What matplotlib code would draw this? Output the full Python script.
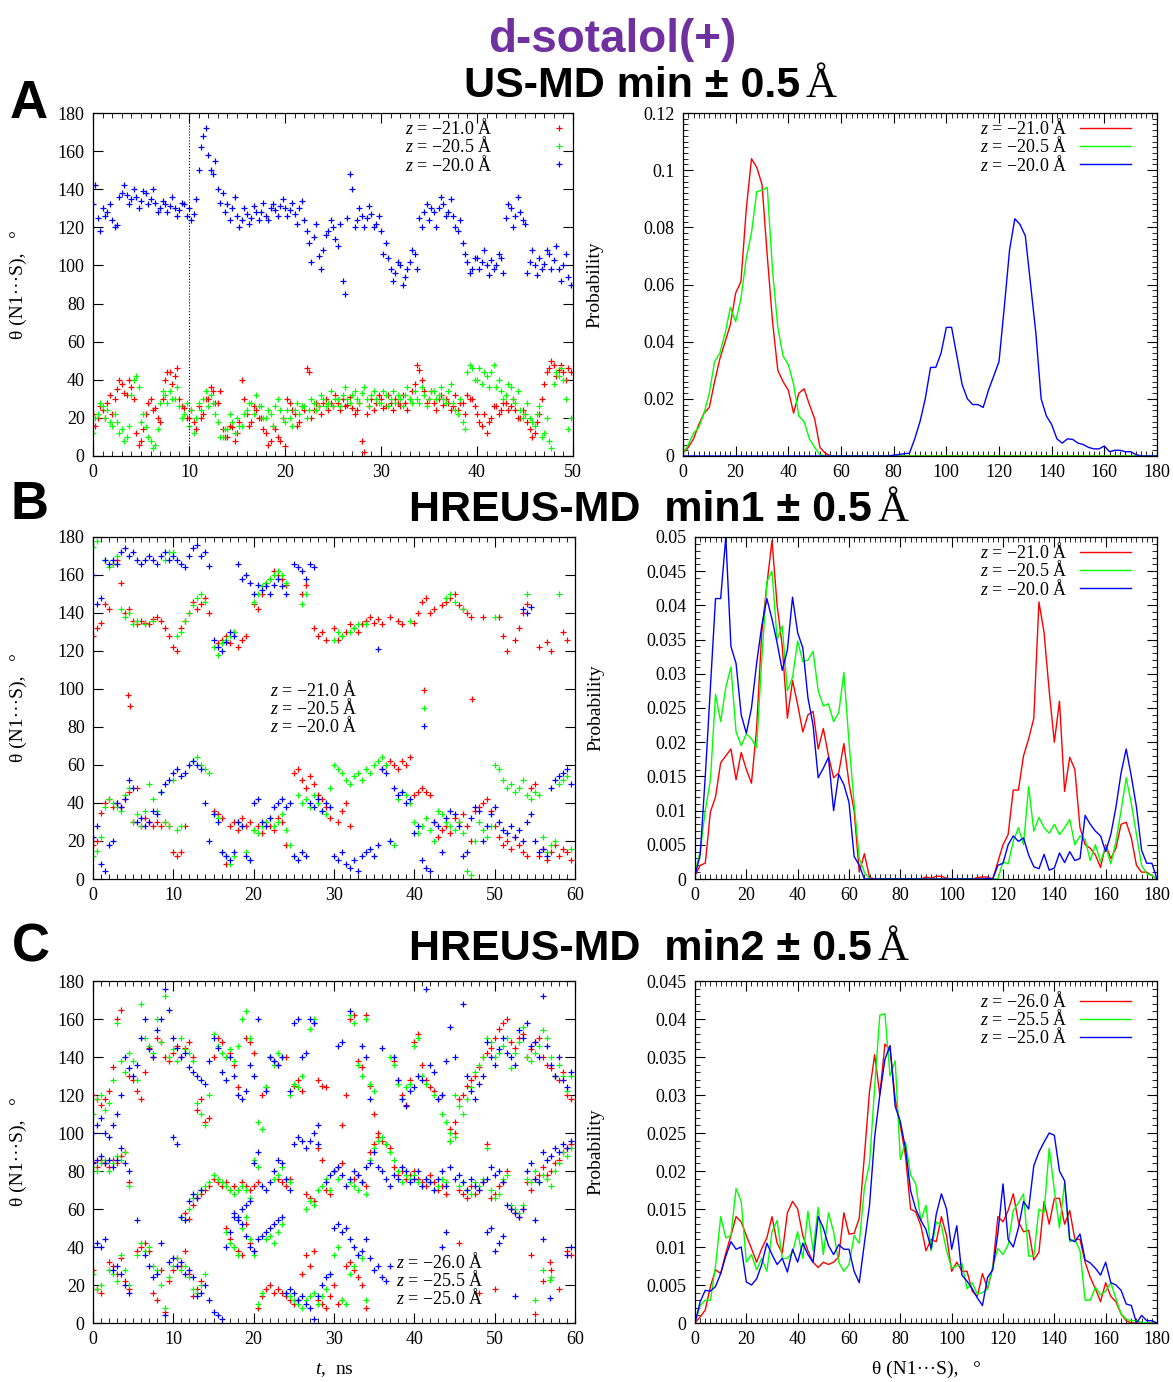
import numpy as np
import matplotlib
matplotlib.use("Agg")
import matplotlib.pyplot as plt
from matplotlib.ticker import MultipleLocator, AutoMinorLocator, NullLocator, FormatStrFormatter

plt.rcParams['font.family'] = ['Liberation Serif', 'DejaVu Serif']
plt.rcParams['mathtext.fontset'] = 'custom'
plt.rcParams['mathtext.rm'] = 'Liberation Serif'
plt.rcParams['mathtext.it'] = 'Liberation Serif:italic'
plt.rcParams['font.size'] = 13

nan = np.nan
RED, GREEN, BLUE = '#ff0000', '#00ff00', '#0000ff'

# ---- time series, sampled every 0.5 ns (theta in degrees) ----
# panel A: main samples at 0, 0.5, 1 ... and in-between samples at 0.25, 0.75 ...
a_red = [22, 20, 24, 28, 22, 35, 38, 32, 36, 12, 8, 22, 30, 25, 18, 40, 44, 42, 30, 25,
         20, 18, 26, 22, 30, 34, 28, 14, 10, 15, 12, 40, 22, 18, 24, 20, 12, 8, 14, 8,
         5, 28, 22, 18, 24, 44, 24, 26, 28, 24, 26, 28, 30, 27, 25, 24, 8, 22, 30, 28,
         30, 26, 28, 30, 26, 28, 30, 38, 45, 34, 30, 28, 30, 27, 28, 26, 24, 28, 32, 30,
         22, 16, 12, 20, 26, 24, 28, 26, 24, 20, 22, 14, 12, 22, 38, 46, 48, 45, 44, 46]
a_red_b = [16, 26, 20, 32, 30, 40, 33, 40, 30, 6, 14, 28, 24, 20, 30, 44, 38, 46, 26, 20,
           24, 14, 20, 30, 36, 28, 34, 10, 16, 8, 18, 30, 16, 26, 20, 14, 6, 16, 10, 20,
           30, 24, 16, 26, 46, 20, 28, 22, 30, 28, 32, 24, 26, 31, 22, 28, 2, 26, 24, 32,
           25, 32, 24, 28, 32, 24, 34, 48, 40, 28, 34, 24, 32, 30, 24, 32, 28, 22, 30, 26,
           18, 22, 18, 26, 22, 28, 24, 30, 20, 24, 18, 10, 18, 30, 44, 50, 42, 48, 40, 44]
a_green = [12, 22, 26, 24, 16, 18, 14, 10, 32, 42, 18, 15, 8, 6, 28, 32, 34, 30, 26, 22,
           16, 12, 28, 30, 26, 28, 18, 10, 14, 18, 20, 16, 24, 28, 32, 26, 20, 22, 26, 24,
           18, 20, 24, 22, 26, 24, 28, 26, 30, 28, 26, 30, 32, 30, 32, 30, 33, 30, 32, 30,
           28, 32, 30, 28, 30, 32, 30, 34, 28, 32, 30, 34, 32, 30, 34, 28, 22, 18, 44, 46,
           40, 38, 42, 44, 36, 34, 32, 36, 28, 24, 22, 20, 16, 26, 12, 8, 38, 42, 40, 14]
a_green_b = [20, 28, 20, 18, 22, 12, 8, 16, 40, 36, 22, 10, 4, 14, 34, 28, 30, 36, 20, 28,
             24, 20, 24, 34, 32, 22, 10, 14, 22, 12, 16, 22, 28, 22, 26, 20, 24, 16, 30, 20,
             24, 16, 28, 26, 20, 30, 24, 32, 26, 34, 30, 26, 36, 28, 34, 28, 36, 26, 34, 28,
             34, 26, 34, 32, 26, 36, 28, 30, 36, 26, 34, 30, 36, 28, 38, 24, 30, 14, 48, 40,
             46, 44, 36, 48, 40, 30, 38, 30, 34, 20, 28, 18, 22, 10, 20, 4, 44, 46, 30, 20]
a_blue = [132, 125, 130, 128, 124, 121, 138, 137, 135, 136, 134, 138, 135, 133, 130, 132, 131, 130, 129, 132,
          130, 127, 150, 168, 158, 148, 140, 138, 132, 130, 126, 124, 127, 125, 128, 128, 126, 130, 129, 131,
          130, 129, 127, 130, 124, 112, 115, 105, 108, 118, 120, 110, 92, 125, 140, 124, 126, 125, 127, 122,
          118, 112, 98, 96, 100, 94, 102, 106, 125, 128, 124, 128, 130, 132, 128, 126, 118, 112, 102, 98,
          104, 102, 100, 103, 100, 104, 125, 130, 126, 128, 122, 102, 100, 104, 101, 106, 103, 98, 100, 94]
a_blue_b = [142, 118, 126, 132, 120, 136, 142, 132, 140, 130, 139, 132, 140, 128, 134, 128, 136, 126, 133, 126,
            124, 135, 162, 172, 150, 155, 133, 128, 124, 136, 120, 130, 122, 131, 124, 133, 124, 132, 126, 135,
            126, 133, 122, 134, 118, 102, 122, 98, 116, 124, 114, 122, 85, 148, 120, 130, 120, 131, 120, 126,
            106, 104, 92, 102, 90, 98, 108, 98, 120, 132, 130, 120, 136, 126, 135, 120, 124, 106, 96, 104,
            98, 108, 95, 98, 106, 96, 132, 120, 136, 124, 96, 108, 95, 98, 108, 98, 110, 92, 106, 90]

b_red_hi = [128, 132, 135, 145, 142, 166, 168, 156, 140, 142, 136, 134, 136, 135, 134, 137, 138, 136, 132, 128,
            122, 120, 132, 136, 140, 146, 142, 145, 148, 140, nan, 124, 126, 128, 124, 130, 122, 126, 128, nan,
            145, 142, 150, 156, 158, 162, 160, 158, 155, nan, nan, nan, 150, 155, nan, 132, 128, 130, 126, nan,
            132, 126, 128, 130, 134, 132, 130, 134, 136, 138, 135, 137, 134, nan, 138, nan, 136, 134, nan, nan,
            135, 140, 146, 148, 140, 142, nan, 144, 146, 148, 150, 144, 142, 140, 138, nan, nan, 138, nan, nan,
            nan, 138, 128, 120, nan, 126, 132, 140, 145, nan, nan, 122, nan, 125, 120, nan, nan, 130, 126, nan]
b_red_lo = [18, 20, 35, 40, 42, 38, 40, 38, 42, 46, 30, 48, 28, 32, 30, 28, 30, 28, 30, 28,
            14, 12, 14, 28, nan, nan, nan, nan, nan, nan, 36, 34, 32, 8, 28, 30, 26, 32, 28, 30,
            26, 28, 24, 30, 28, 26, 32, 30, 18, nan, 56, 58, 52, 48, 54, 50, 44, 42, 38, 32,
            nan, 30, 36, 40, 28, nan, nan, nan, nan, nan, nan, nan, 58, 60, 62, 60, 58, 62, 60, 64,
            44, 46, 48, 46, 44, 30, 22, 26, 28, 24, 32, 30, 34, 28, 20, 36, 38, 40, 42, 36,
            28, 22, 18, 20, 16, 22, 18, 14, 12, 48, 50, 12, 16, 10, 14, 18, 12, 16, 14, 10]
b_red_extra_t = [4.3, 4.6, 47.2]
b_red_extra = [97, 91, 95]
b_green_hi = [175, 178, nan, 168, 164, 166, 170, 142, 138, 140, 134, 136, nan, 134, nan, 136, nan, nan, 168, 172,
              172, 128, 130, 136, 140, 144, 148, 150, 146, nan, 122, 118, 124, 126, 128, 130, nan, nan, nan, nan,
              146, 150, 154, 156, 158, 160, 162, 160, 156, nan, nan, nan, 145, 150, nan, nan, nan, nan, nan, nan,
              126, 130, 128, nan, 130, 132, 134, nan, 134, nan, nan, nan, nan, nan, nan, nan, nan, nan, nan, 136,
              nan, nan, nan, nan, nan, nan, nan, nan, 148, 150, 146, nan, 142, nan, nan, nan, nan, nan, nan, nan,
              138, nan, nan, nan, nan, nan, nan, nan, 150, nan, nan, nan, nan, nan, nan, nan, 150, nan, nan, nan]
b_green_lo = [12, 15, 22, 38, 42, 40, 38, 36, 44, 48, 30, 34, 28, 36, 50, 42, 36, 46, 30, 28,
              52, 26, 28, nan, nan, 62, 64, 60, 58, 56, 34, 32, 14, 12, 8, 12, 30, 28, 14, 10,
              26, 24, 28, 30, 32, 28, 30, 34, 26, 18, 12, 44, 40, 42, 38, 44, 40, 36, 34, 48,
              60, 58, 56, 52, 50, 54, 56, 52, 58, 56, 60, 62, 64, 60, 20, 18, 42, 46, 44, 40,
              30, 24, 28, 32, 26, 20, 36, 34, 30, 28, 26, 30, 24, 4, 2, 20, 30, 26, 22, 28,
              60, 58, 52, 48, 50, 46, 48, 52, 44, 42, 46, 44, 22, 14, 18, 20, 50, 52, 54, 16]
b_blue_hi = [160, 145, 148, 168, 166, 168, 166, 172, 174, 170, 172, 168, 166, 168, 170, 168, 166, 170, 172, 168,
             170, 168, 166, 164, 170, 174, 176, 170, 172, 165, 126, 122, 120, 125, 130, 128, 166, 158, 160, 156,
             150, 155, 152, 154, 150, 155, 158, 154, 150, nan, 166, 164, 162, 158, 166, 164, nan, nan, nan, nan,
             nan, nan, nan, nan, nan, nan, nan, nan, nan, nan, nan, 121, nan, nan, nan, nan, nan, nan, nan, nan,
             nan, nan, nan, nan, nan, nan, nan, nan, nan, nan, nan, nan, nan, nan, nan, nan, nan, nan, nan, nan,
             nan, nan, nan, nan, nan, nan, nan, 142, 140, 143, nan, nan, nan, nan, nan, nan, nan, nan, nan, nan]
b_blue_lo = [22, 28, 8, 4, 18, 20, 40, 38, 42, 52, 48, 30, 32, 28, 30, 36, 34, 46, 50, 52,
             56, 58, 54, 56, 60, 62, 60, 58, 40, 20, 34, 30, 14, 12, 10, 14, 30, 28, 12, 10,
             40, 42, 30, 28, 32, 38, 40, 42, 38, 40, 12, 10, 14, 12, 40, 38, 42, 36, 40, 38,
             12, 10, 14, 8, 6, 10, 4, 12, 14, 16, 12, 18, 58, 56, 20, 48, 44, 46, 40, 42,
             24, 28, 10, 6, 4, 30, 28, 14, 32, 36, 34, 28, 12, 14, 32, 38, 36, 20, 28, 34,
             38, 30, 26, 24, 28, 22, 26, 20, 30, 34, 20, 14, 16, 12, 48, 52, 54, 56, 58, 50]

c_red_hi = [120, 118, 115, 118, 122, 135, 160, 165, nan, 130, 128, 122, 118, 132, 145, 140, 150, 148, 140, 138,
            142, 146, 140, 145, 148, 140, 112, 118, 106, 108, 140, 150, 148, 140, 142, 136, 124, nan, 150, 148,
            142, nan, 120, 124, 140, 138, 136, nan, 140, nan, 125, 128, 122, nan, nan, 158, 128, 125, 124, nan,
            nan, nan, 104, 120, 160, 162, 138, 135, 162, 125, 110, 100, nan, nan, nan, 138, 128, 120, 115, 128,
            148, 152, 136, 128, 124, 122, 118, 120, nan, 102, 106, 118, 120, 125, 128, 130, 135, 140, 142, 145,
            150, 155, 158, 160, 148, 145, 150, 152, 140, 144, 148, 150, 140, 136, 134, 130, 128, 132, 120, 118]
c_red_mid = [85, 82, 86, 84, 82, 86, 84, 88, 90, 74, nan, nan, nan, nan, nan, nan, nan, nan, nan, nan,
             nan, nan, nan, 58, 55, 62, 66, 68, 70, 72, 76, 74, 72, 74, 70, 72, 70, 74, 72, 70,
             72, 74, nan, nan, nan, nan, 76, 74, 72, 76, nan, nan, nan, 68, 66, 64, 92, 86, 70, 68,
             80, 82, 84, nan, nan, 76, 78, 74, 72, 90, 94, 98, 96, 94, 92, 82, 78, 80, 76, 78,
             80, 76, 74, 72, 78, 74, 70, 72, 68, 96, 100, 70, 68, 66, 72, 68, 70, 74, 94, 66,
             68, 72, 74, 80, 60, 58, 56, 60, 74, 70, 76, 78, 82, 78, 80, 84, 86, 90, 92, 94]
c_red_lo = [28, 18, 16, nan, 32, 30, 26, 34, 22, 18, nan, 38, 40, 42, 38, 16, 12, 28, 6, 22,
            28, 34, 30, 38, 26, 14, 18, 22, nan, nan, nan, nan, nan, 50, 44, 40, 38, 36, 52, 42,
            38, 8, 14, 18, 20, 16, 18, 16, 14, 12, 10, 12, 26, 36, 30, 38, 12, 10, 8, 14,
            20, 10, 12, 30, 32, 28, 24, 20, 8, nan, nan, nan, nan, nan, nan, nan, nan, nan, nan, nan,
            nan, nan, nan, nan, nan, nan, nan, nan, nan, nan, nan, 42, nan, nan, nan, nan, 16, nan, nan, nan,
            18, nan, nan, nan, nan, nan, nan, nan, nan, 36, 5, nan, 22, nan, 28, nan, 18, nan, 38, 36]
c_green_hi = [110, 118, 120, 112, 116, 128, 158, 138, 132, 142, 138, 128, 168, 150, 146, 142, 160, 148, 172, 140,
              144, 138, 150, 144, 142, 138, 116, 110, 104, 120, 152, 146, 142, 140, 144, 138, 146, 160, 164, 150,
              130, 106, 102, 124, 140, 136, 142, 140, nan, 120, 126, 124, 130, nan, 155, 160, nan, nan, nan, nan,
              nan, nan, nan, nan, 162, 158, 136, 130, 160, 126, 122, nan, nan, nan, 140, 136, 126, 118, 124, 126,
              146, 150, 130, 126, nan, 120, nan, 110, 106, 100, 120, 114, 110, 118, 124, 132, 136, 140, 150, 148,
              140, 142, 146, 150, 134, 142, 148, 156, 140, 138, 142, 146, 154, 150, 140, 130, 136, 130, 122, 130]
c_green_mid = [82, 80, 84, 86, 80, 84, 88, 86, 90, 72, nan, nan, nan, nan, nan, nan, nan, nan, nan, nan,
               nan, nan, 56, 54, 60, 66, 68, 70, 72, 74, 78, 76, 74, 72, 70, 68, 70, 72, 70, 66,
               86, 82, nan, nan, nan, 76, 78, 82, 76, 74, nan, nan, nan, 60, 64, 62, 70, 72, 76, 70,
               80, 76, nan, nan, 74, 72, 70, 74, 68, 86, 92, 96, 98, 94, 90, 86, 80, 74, 78, 76,
               78, 74, 72, 76, 74, 70, 72, 76, 74, 96, 98, 72, 74, 70, 68, 74, 72, 76, 92, 70,
               66, 68, 76, 78, 62, 60, 58, 62, 76, 74, 80, 74, 78, 76, 72, 80, 84, 90, 88, 92]
c_green_lo = [26, 18, 20, nan, 28, 26, 22, 36, 28, 20, nan, 36, 42, 38, 40, 30, 28, 20, 8, 24,
              30, 34, 28, 30, 24, 18, 16, 20, 26, nan, nan, nan, nan, 48, 42, 40, 36, 50, 56, 44,
              36, 10, 16, 44, 46, 42, 48, 52, 16, 14, 12, 10, 8, 12, 14, 16, 10, 14, 18, 26,
              36, 40, 12, 10, 26, 30, 36, 34, 12, nan, nan, nan, nan, nan, nan, nan, nan, nan, nan, nan,
              nan, nan, nan, nan, nan, nan, nan, nan, nan, nan, nan, nan, nan, nan, nan, nan, nan, nan, nan, nan,
              nan, nan, nan, nan, nan, nan, nan, nan, nan, nan, 12, nan, 28, nan, 24, nan, nan, nan, nan, nan]
c_blue_hi = [100, 104, 108, 100, 98, 104, 110, 120, 140, 134, 130, 136, 150, 160, 144, 140, 154, 160, 176, 165,
             150, 145, 140, 142, 135, 132, 130, 128, 126, 138, 150, 145, 132, 128, 140, 130, 120, 118, 122, 136,
             130, 160, nan, 122, 140, 138, 136, 140, nan, 122, 158, 160, 140, 142, 160, 158, 104, nan, nan, nan,
             nan, 146, 148, nan, 164, nan, nan, 146, 140, 118, nan, nan, 145, nan, nan, 140, 128, 118, 114, 122,
             124, 130, 128, 176, 136, 132, 118, 120, 138, 156, 140, nan, 168, 130, 122, 118, 126, 130, 148, 140,
             136, 144, 150, 142, 140, 136, 154, 150, 158, 146, 148, 140, 172, 146, 136, 130, 140, 128, 124, 132]
c_blue_mid = [84, 86, 88, 84, 86, 82, 86, 92, 84, 80, nan, nan, nan, nan, nan, nan, nan, nan, nan, nan,
              98, 94, 56, 54, 64, 68, 66, 70, nan, nan, nan, nan, nan, nan, nan, 58, 56, 60, 62, 64,
              84, 90, 72, 70, 74, 80, 86, 84, 76, 70, 94, 98, 96, 92, 96, 100, 94, nan, 74, 78,
              80, 82, 78, 72, 76, 80, 78, 74, 82, 84, 90, 82, 80, 76, 72, 78, 76, 82, 80, 74,
              76, 80, 72, 76, 74, 70, 76, 80, 72, 82, 76, 78, 74, 70, 76, 72, 70, 74, 76, 82,
              78, 80, 74, 62, 60, 58, 56, 60, 80, 84, 76, 74, 90, 86, 88, 92, 90, 94, 92, 96]
c_blue_lo = [40, 42, 40, 44, nan, 28, 30, 26, 20, 16, nan, 54, nan, 36, 30, 24, 26, 42, 4, 32,
             34, 30, 32, 26, 28, 24, 14, 16, 20, 12, 6, 4, 2, 40, 48, 56, 54, 52, 46, 40,
             38, 44, 46, 48, 50, 52, 54, 56, 16, 18, 16, 12, 14, 10, 8, 2, 14, 20, 24, 26,
             50, 52, 48, 50, 44, 40, 36, 38, 44, 34, 28, 30, 24, 22, 30, nan, nan, nan, nan, nan,
             nan, nan, nan, nan, nan, nan, nan, 40, 48, nan, nan, nan, nan, nan, nan, nan, nan, nan, 48, 50,
             38, 42, 46, nan, nan, 14, nan, nan, nan, nan, 54, nan, 44, nan, nan, nan, nan, nan, 36, 40]

# ---- probability histograms, 2 degree bins from 0 to 180 ----
hist_theta = np.arange(0, 181, 2)
a_red_p = [0.001, 0.003, 0.006, 0.011, 0.015, 0.017, 0.026, 0.034, 0.040, 0.046,
           0.057, 0.061, 0.086, 0.104, 0.101, 0.095, 0.070, 0.047, 0.030, 0.026,
           0.023, 0.015, 0.022, 0.0235, 0.018, 0.013, 0.003, 0.001, 0, 0,
           0, 0, 0, 0, 0, 0, 0, 0, 0, 0,
           0, 0, 0, 0, 0, 0, 0, 0, 0, 0,
           0, 0, 0, 0, 0, 0, 0, 0, 0, 0,
           0, 0, 0, 0, 0, 0, 0, 0, 0, 0,
           0, 0, 0, 0, 0, 0, 0, 0, 0, 0,
           0, 0, 0, 0, 0, 0, 0, 0, 0, 0, 0]
a_green_p = [0.001, 0.004, 0.008, 0.010, 0.015, 0.022, 0.033, 0.036, 0.043, 0.052,
             0.047, 0.055, 0.069, 0.078, 0.0925, 0.093, 0.094, 0.065, 0.045, 0.035,
             0.032, 0.025, 0.014, 0.012, 0.006, 0.003, 0.0005, 0, 0, 0,
             0, 0, 0, 0, 0, 0, 0, 0, 0, 0,
             0, 0, 0, 0, 0, 0, 0, 0, 0, 0,
             0, 0, 0, 0, 0, 0, 0, 0, 0, 0,
             0, 0, 0, 0, 0, 0, 0, 0, 0, 0,
             0, 0, 0, 0, 0, 0, 0, 0, 0, 0,
             0, 0, 0, 0, 0, 0, 0, 0, 0, 0, 0]
a_blue_p = [0, 0, 0, 0, 0, 0, 0, 0, 0, 0,
            0, 0, 0, 0, 0, 0, 0, 0, 0, 0,
            0, 0, 0, 0, 0, 0, 0, 0, 0, 0,
            0, 0, 0, 0, 0, 0, 0, 0, 0, 0,
            0.0003, 0.0005, 0.0008, 0.001, 0.006, 0.012, 0.020, 0.031, 0.031, 0.036,
            0.045, 0.045, 0.035, 0.025, 0.020, 0.018, 0.018, 0.017, 0.023, 0.028,
            0.033, 0.052, 0.072, 0.083, 0.081, 0.077, 0.060, 0.043, 0.020, 0.014,
            0.011, 0.006, 0.0045, 0.006, 0.0058, 0.0045, 0.004, 0.003, 0.0025, 0.0025,
            0.0035, 0.0015, 0.002, 0.002, 0.0015, 0.0015, 0.0005, 0, 0, 0, 0]

b_red_p = [0.0005, 0.002, 0.0023, 0.0098, 0.012, 0.017, 0.018, 0.019, 0.0145, 0.0185,
           0.016, 0.014, 0.022, 0.036, 0.043, 0.0495, 0.040, 0.034, 0.0235, 0.029,
           0.0255, 0.0215, 0.024, 0.0245, 0.019, 0.022, 0.018, 0.0148, 0.0155, 0.0198,
           0.014, 0.010, 0.001, 0.0037, 0.0002, 0, 0, 0, 0, 0,
           0, 0, 0, 0, 0, 0.0003, 0.0001, 0.0004, 0.0004, 0.0001,
           0, 0, 0, 0, 0, 0.0002, 0.0003, 0.0003, 0, 0.0025,
           0.005, 0.0065, 0.013, 0.013, 0.018, 0.0205, 0.0235, 0.0405, 0.036, 0.0275,
           0.020, 0.026, 0.0128, 0.0178, 0.016, 0.0075, 0.005, 0.0045, 0.0035, 0.0017,
           0.005, 0.003, 0.0045, 0.008, 0.0083, 0.006, 0.002, 0.001, 0.001, 0.0005, 0]
b_green_p = [0.001, 0.004, 0.010, 0.0145, 0.027, 0.023, 0.028, 0.031, 0.0215, 0.0195,
             0.0212, 0.0205, 0.0192, 0.032, 0.0435, 0.045, 0.035, 0.037, 0.0275, 0.0295,
             0.0348, 0.0318, 0.032, 0.0333, 0.0275, 0.0253, 0.0256, 0.023, 0.0243, 0.0302,
             0.020, 0.011, 0.003, 0.001, 0, 0, 0, 0, 0, 0,
             0, 0, 0, 0, 0, 0, 0, 0, 0, 0,
             0, 0, 0, 0, 0, 0, 0, 0, 0, 0,
             0.0025, 0.0022, 0.0055, 0.0075, 0.005, 0.0135, 0.007, 0.009, 0.0075, 0.0067,
             0.008, 0.0065, 0.0075, 0.0087, 0.005, 0.0063, 0.0058, 0.0027, 0.005, 0.0025,
             0.0048, 0.0022, 0.0055, 0.010, 0.0148, 0.011, 0.0065, 0.002, 0.0008, 0.0005, 0]
b_blue_p = [0.0005, 0.0035, 0.015, 0.028, 0.041, 0.041, 0.050, 0.034, 0.0315, 0.024,
            0.0213, 0.025, 0.0315, 0.037, 0.041, 0.038, 0.0345, 0.0305, 0.0335, 0.0412,
            0.036, 0.0338, 0.0265, 0.0225, 0.0148, 0.0162, 0.0178, 0.010, 0.0153, 0.0138,
            0.0112, 0.0033, 0.002, 0, 0, 0, 0, 0, 0, 0,
            0, 0, 0, 0, 0, 0, 0, 0, 0, 0,
            0, 0, 0, 0, 0, 0, 0, 0.0001, 0, 0.002,
            0.0023, 0.005, 0.0063, 0.0055, 0.006, 0.0035, 0.0018, 0.0015, 0.0036, 0.0013,
            0.0016, 0.0038, 0.0024, 0.004, 0.0027, 0.003, 0.0093, 0.008, 0.007, 0.0063,
            0.004, 0.0065, 0.0105, 0.0155, 0.019, 0.015, 0.0105, 0.0042, 0.0023, 0.0023, 0]

c_red_p = [0.0, 0.0008, 0.0017, 0.0048, 0.007, 0.0065, 0.0092, 0.0115, 0.014, 0.0133,
           0.0115, 0.0098, 0.008, 0.0098, 0.0112, 0.014, 0.0105, 0.0092, 0.0145, 0.016,
           0.015, 0.0115, 0.0095, 0.008, 0.0073, 0.008, 0.0077, 0.008, 0.0087, 0.0145,
           0.0117, 0.0118, 0.0138, 0.022, 0.0305, 0.0353, 0.030, 0.0367, 0.036, 0.0295,
           0.026, 0.022, 0.015, 0.0146, 0.0128, 0.0095, 0.011, 0.0107, 0.014, 0.0115,
           0.0068, 0.008, 0.0068, 0.0068, 0.0042, 0.0035, 0.0065, 0.0045, 0.0073, 0.014,
           0.0133, 0.0148, 0.017, 0.0133, 0.012, 0.0122, 0.0083, 0.0093, 0.016, 0.013,
           0.0164, 0.0164, 0.013, 0.0148, 0.011, 0.011, 0.008, 0.006, 0.0045, 0.0028,
           0.0053, 0.0035, 0.0028, 0.0012, 0.0003, 0, 0, 0, 0, 0, 0]
c_green_p = [0.0, 0.0023, 0.003, 0.003, 0.0075, 0.014, 0.0112, 0.0115, 0.0177, 0.016,
             0.008, 0.009, 0.007, 0.0085, 0.0068, 0.012, 0.0135, 0.0085, 0.0085, 0.0093,
             0.012, 0.0085, 0.0147, 0.0095, 0.0152, 0.009, 0.0145, 0.012, 0.008, 0.0068,
             0.0077, 0.0115, 0.0105, 0.0178, 0.021, 0.031, 0.0405, 0.0407, 0.0325, 0.0345,
             0.0215, 0.0238, 0.0195, 0.0183, 0.0135, 0.0155, 0.0095, 0.0133, 0.0128, 0.0095,
             0.0072, 0.0075, 0.0078, 0.0045, 0.0053, 0.0038, 0.004, 0.0045, 0.0075, 0.0098,
             0.009, 0.0103, 0.0148, 0.0158, 0.017, 0.0088, 0.0088, 0.015, 0.0145, 0.023,
             0.0175, 0.0125, 0.0185, 0.0107, 0.011, 0.0095, 0.003, 0.003, 0.0047, 0.0037,
             0.0042, 0.0053, 0.0032, 0.0012, 0.0005, 0.0003, 0.0003, 0.0001, 0, 0, 0]
c_blue_p = [0.0, 0.0028, 0.0043, 0.0042, 0.0048, 0.0065, 0.0088, 0.0107, 0.0097, 0.010,
            0.0054, 0.005, 0.0058, 0.0077, 0.0105, 0.009, 0.0077, 0.0085, 0.0067, 0.0097,
            0.008, 0.0105, 0.009, 0.008, 0.014, 0.0125, 0.0102, 0.009, 0.0103, 0.0097,
            0.0097, 0.0068, 0.0053, 0.0105, 0.0155, 0.0245, 0.030, 0.0347, 0.0365, 0.0285,
            0.0265, 0.023, 0.0174, 0.015, 0.0135, 0.0123, 0.0098, 0.0143, 0.017, 0.015,
            0.0097, 0.0128, 0.0063, 0.0055, 0.0045, 0.0033, 0.0023, 0.006, 0.007, 0.0118,
            0.0183, 0.011, 0.010, 0.0125, 0.016, 0.015, 0.0207, 0.0225, 0.0238, 0.025,
            0.0247, 0.020, 0.0187, 0.011, 0.0107, 0.0117, 0.0083, 0.0079, 0.0072, 0.0063,
            0.008, 0.0053, 0.005, 0.0043, 0.0025, 0.0023, 0, 0.001, 0.0003, 0.0003, 0]

labels_a = ['$z$ = \u221221.0 \u00c5', '$z$ = \u221220.5 \u00c5', '$z$ = \u221220.0 \u00c5']
labels_c = ['$z$ = \u221226.0 \u00c5', '$z$ = \u221225.5 \u00c5', '$z$ = \u221225.0 \u00c5']
colors = [RED, GREEN, BLUE]
theta_label = '\u03b8 (N1\u00b7\u00b7\u00b7S),   \u00b0'

W, H = 1173, 1382
fig = plt.figure(figsize=(W / 100, H / 100), dpi=100)


def add_axes(l, r, t, b):
    return fig.add_axes([l / W, 1 - b / H, (r - l) / W, (b - t) / H])


def style(ax, xmax, xmajor, ymax, ymajor, yminor):
    ax.set_xlim(0, xmax)
    ax.set_ylim(0, ymax)
    ax.xaxis.set_major_locator(MultipleLocator(xmajor))
    ax.xaxis.set_minor_locator(AutoMinorLocator(10))
    ax.yaxis.set_major_locator(MultipleLocator(ymajor))
    if yminor:
        ax.yaxis.set_minor_locator(AutoMinorLocator(yminor))
    else:
        ax.yaxis.set_minor_locator(NullLocator())
    ax.yaxis.set_major_formatter(FormatStrFormatter('%g'))
    ax.xaxis.set_major_formatter(FormatStrFormatter('%g'))
    ax.tick_params(which='both', direction='in', top=True, right=True, labelsize=13, pad=6)
    ax.tick_params(which='major', length=7, width=0.8)
    ax.tick_params(which='minor', length=3.5, width=0.6)
    for s in ax.spines.values():
        s.set_linewidth(0.9)


def scatter_panel(ax, series, xmax, legend_xy, labels):
    # each series: list of (t0, values) tracks sampled every 0.5 ns
    for tracks, c, lab in zip(series, colors, labels):
        first = True
        for t0, tr in tracks:
            tr = np.array(tr, dtype=float)
            t = t0 + np.arange(len(tr)) * 0.5
            ax.plot(t, tr, '+', color=c, ms=4.5, mew=0.9, ls='none', label=lab if first else None)
            first = False
    style(ax, xmax, 10, 180, 20, 0)
    ax.set_ylabel(theta_label, fontsize=14)
    ax.yaxis.set_label_coords(-0.137, 0.5)
    ax.legend(loc='upper left', bbox_to_anchor=legend_xy, frameon=False, markerfirst=False,
              numpoints=1, handlelength=6.8, handletextpad=0.3, labelspacing=-0.1,
              borderpad=0, borderaxespad=0, fontsize=13)


def hist_panel(ax, curves, labels, ymax, ymajor, yminor, legend_xy, label_x):
    for p, c, lab in zip(curves, colors, labels):
        ax.plot(hist_theta, p, color=c, lw=1.0, label=lab)
    style(ax, 180, 20, ymax, ymajor, yminor)
    ax.set_ylabel('Probability', fontsize=14)
    ax.yaxis.set_label_coords(label_x, 0.5)
    ax.legend(loc='upper left', bbox_to_anchor=legend_xy, frameon=False, markerfirst=False,
              handlelength=2.8, handletextpad=0.7, labelspacing=-0.1,
              borderpad=0, borderaxespad=0, fontsize=13)


# row A
ax = add_axes(93, 573, 113, 456)
scatter_panel(ax, [[(0, a_red), (0.25, a_red_b)], [(0, a_green), (0.25, a_green_b)],
                   [(0, a_blue), (0.25, a_blue_b)]], 50, (0.65, 0.985), labels_a)
ax.axvline(10, color='black', ls=':', lw=0.8)
ax = add_axes(683, 1157, 113, 456)
hist_panel(ax, [a_red_p, a_green_p, a_blue_p], labels_a, 0.12, 0.02, 10, (0.627, 0.985), -0.167)

# row B
ax = add_axes(93, 575, 537, 879)
scatter_panel(ax, [[(0, b_red_hi), (0, b_red_lo)], [(0, b_green_hi), (0, b_green_lo)],
                   [(0, b_blue_hi), (0, b_blue_lo)]], 60, (0.367, 0.582), labels_a)
ax.plot(b_red_extra_t, b_red_extra, '+', color=RED, ms=4.5, mew=0.9, ls='none')
ax = add_axes(695, 1157, 537, 879)
hist_panel(ax, [b_red_p, b_green_p, b_blue_p], labels_a, 0.05, 0.005, 5, (0.617, 0.985), -0.197)

# row C
ax = add_axes(93, 575, 981, 1323)
scatter_panel(ax, [[(0, c_red_hi), (0, c_red_mid), (0, c_red_lo)],
                   [(0, c_green_hi), (0, c_green_mid), (0, c_green_lo)],
                   [(0, c_blue_hi), (0, c_blue_mid), (0, c_blue_lo)]], 60, (0.629, 0.208), labels_c)
ax.set_xlabel('$t$,  ns', fontsize=14, labelpad=9)
ax = add_axes(695, 1157, 981, 1323)
hist_panel(ax, [c_red_p, c_green_p, c_blue_p], labels_c, 0.045, 0.005, 5, (0.617, 0.971), -0.197)
ax.set_xlabel(theta_label, fontsize=14, labelpad=9)

# titles
fig.text(612 / W, 1 - 52 / H, 'd-sotalol(+)', ha='center', va='baseline', color='#7030a0',
         fontsize=33, fontweight='bold', family='Liberation Sans')
for x_end, base, txt in [(800, 97, 'US-MD min \u00b1 0.5'),
                         (872, 521, 'HREUS-MD  min1 \u00b1 0.5'),
                         (872, 960, 'HREUS-MD  min2 \u00b1 0.5')]:
    fig.text(x_end / W, 1 - base / H, txt, ha='right', va='baseline', fontsize=31,
             fontweight='bold', family='Liberation Sans')
    fig.text((x_end + 6) / W, 1 - base / H, '\u00c5', ha='left', va='baseline', fontsize=31,
             family='Liberation Serif')
for cx, base, letter in [(29, 118, 'A'), (30, 519, 'B'), (31, 962, 'C')]:
    fig.text(cx / W, 1 - base / H, letter, ha='center', va='baseline', fontsize=38,
             fontweight='bold', family='Liberation Sans')

fig.savefig('out.png', dpi=100)
